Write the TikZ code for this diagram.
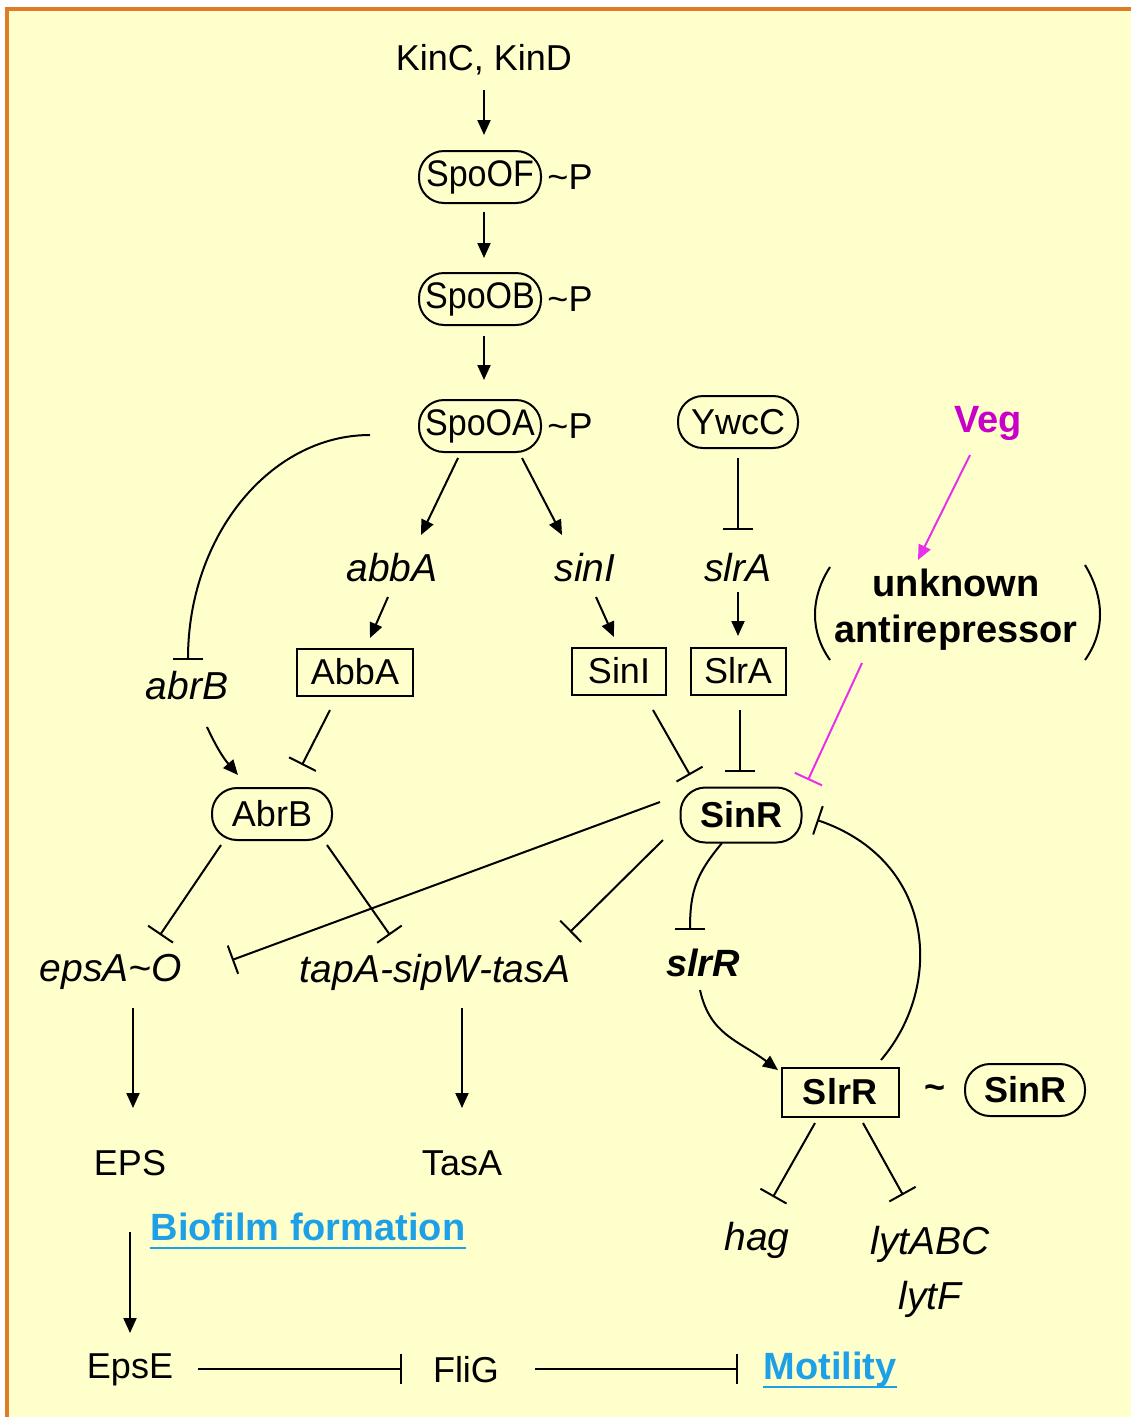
\documentclass[tikz,border=0pt]{standalone}
\usepackage{fontspec}
\setmainfont{Liberation Sans}
\newfontfamily\condfont[FakeStretch=0.92]{Liberation Sans}
\usetikzlibrary{arrows.meta,calc}
\definecolor{bgc}{HTML}{FFFFCC}
\definecolor{framec}{HTML}{E07B28}
\definecolor{magc}{HTML}{E830E8}
\definecolor{vegc}{HTML}{C800C8}
\definecolor{lnkc}{HTML}{1EA0E6}
\begin{document}
\begin{tikzpicture}[x=1pt,y=-1pt,line width=2pt,
  txt/.style={inner sep=0pt,font=\fontsize{36}{40}\selectfont},
  gene/.style={inner sep=0pt,font=\fontsize{39}{42}\selectfont\itshape},
  bgene/.style={inner sep=0pt,font=\fontsize{38}{42}\selectfont\bfseries\itshape},
  linktxt/.style={inner sep=0pt,text=lnkc,font=\fontsize{38}{42}\selectfont\bfseries},
  rnd/.style={draw,rounded corners=25pt,inner sep=0pt,minimum width=122pt,minimum height=52pt,font=\fontsize{36}{40}\selectfont},
  spo/.style={rnd,font=\condfont\fontsize{37}{40}\selectfont},
  pbox/.style={draw,inner sep=0pt,minimum height=47pt,font=\fontsize{36}{40}\selectfont},
  act/.style={-{Triangle[length=15pt,width=13pt]}},
  inh/.style={-{Bar[width=30pt,line width=2pt]}}]
\useasboundingbox (0,0) rectangle (1131,1417);
\fill[white] (0,0) rectangle (1131,1417);
\filldraw[fill=bgc,draw=framec,line width=4pt] (7,9) rectangle (1170,1450);

% nodes
\node[txt] (kin) at (484,60) {KinC, KinD};
\node[spo] (spoof) at (480,177) {SpoOF};
\node[txt] (pf) at (570,177) {\textasciitilde P};
\node[spo] (spoob) at (480,299) {SpoOB};
\node[txt] (pb) at (570,299) {\textasciitilde P};
\node[spo] (spooa) at (480,426) {SpoOA};
\node[txt] (pa) at (570,426) {\textasciitilde P};
\node[rnd,minimum width=120pt] (ywcc) at (738,422) {YwcC};
\node[txt,font=\fontsize{38}{40}\selectfont\bfseries,text=vegc] (veg) at (988,423) {Veg};
\node[gene] (abbAg) at (392,568) {abbA};
\node[gene] (sinIg) at (585,568) {sinI};
\node[gene] (slrAg) at (738,568) {slrA};
\node[txt,font=\fontsize{38}{46}\selectfont\bfseries,align=center] (unk) at (956,610) {unknown\\antirepressor};
\node[pbox,minimum width=116pt] (abbAp) at (355,672) {AbbA};
\node[pbox,minimum width=94pt] (sinIp) at (619,671) {SinI};
\node[pbox,minimum width=95pt] (slrAp) at (738,671) {SlrA};
\node[gene] (abrBg) at (187,686) {abrB};
\node[rnd,minimum width=120pt] (abrB) at (272,814) {AbrB};
\node[rnd,minimum width=121pt,minimum height=55pt,font=\fontsize{36}{40}\selectfont\bfseries] (sinR) at (741,815) {SinR};
\node[gene] (epsg) at (111,972) {epsA\textasciitilde O};
\node[gene] (tapg) at (435,972) {tapA-sipW-tasA};
\node[bgene] (slrRg) at (703,963) {slrR};
\node[pbox,minimum width=117pt,minimum height=49pt,font=\fontsize{36}{40}\selectfont\bfseries] (slrRp) at (840,1092) {SlrR};
\node[txt,font=\fontsize{36}{40}\selectfont\bfseries] (tld) at (935,1092) {\textasciitilde};
\node[rnd,minimum width=120pt,font=\fontsize{36}{40}\selectfont\bfseries] (sinR2) at (1025,1090) {SinR};
\node[txt] (eps) at (130,1163) {EPS};
\node[txt] (tasA) at (462,1163) {TasA};
\node[linktxt] (bio) at (308,1227) {Biofilm formation};
\node[txt] (epsE) at (130,1370) {EpsE};
\node[txt] (fliG) at (466,1370) {FliG};
\node[linktxt] (mot) at (830,1370) {Motility};
\node[gene] (hag) at (757,1240) {hag};
\node[gene,font=\fontsize{39}{55}\selectfont\itshape,align=center] (lyt) at (930,1272) {lytABC\\lytF};

% underlines of the links
\draw[lnkc] ($(bio.base west)+(0,7)$) -- ($(bio.base east)+(0,7)$);
\draw[lnkc] ($(mot.base west)+(0,7)$) -- ($(mot.base east)+(0,7)$);

% parentheses round the antirepressor
\draw ($(unk)+(-126,-43)$) .. controls ($(unk)+(-146,-12)$) and ($(unk)+(-146,22)$) .. ($(unk)+(-126,50)$);
\draw ($(unk)+(129,-45)$) .. controls ($(unk)+(149,-12)$) and ($(unk)+(149,22)$) .. ($(unk)+(129,50)$);

% connectors
\draw[act] ($(kin)+(0,30)$) -- ($(spoof)+(4,-42)$);
\draw[act] ($(spoof)+(4,35)$) -- ($(spoob)+(4,-41)$);
\draw[act] ($(spoob)+(4,37)$) -- ($(spooa)+(4,-46)$);
\draw[act] ($(spooa)+(-22,32)$) -- ($(abbAg)+(29,-33)$);
\draw[act] ($(spooa)+(42,32)$) -- ($(sinIg)+(-23,-33)$);
\draw[inh] ($(ywcc)+(0,36)$) -- ($(slrAg)+(0,-38)$);
\draw[act,magc] ($(veg)+(-18,32)$) -- ($(unk)+(-38,-50)$);
\draw[act] ($(abbAg)+(-4,29)$) -- ($(abbAp)+(15,-34)$);
\draw[act] ($(sinIg)+(11,29)$) -- ($(sinIp)+(-5,-34)$);
\draw[act] ($(slrAg)+(0,24)$) -- ($(slrAp)+(0,-35)$);
\draw[inh] ($(spooa)+(-110,9)$) .. controls +(-100,0) and +(0,-124) .. ($(abrBg)+(1,-26)$);
\draw[act] ($(abrBg)+(20,41)$) to[bend right=8] ($(abrB)+(-34,-39)$);
\draw[inh] ($(abbAp)+(-25,38)$) -- ($(abrB)+(30,-49)$);
\draw[inh] ($(sinIp)+(34,39)$) -- ($(sinR)+(-51,-40)$);
\draw[inh] ($(slrAp)+(2,39)$) -- ($(sinR)+(-1,-43)$);
\draw[inh,magc] ($(unk)+(-94,53)$) -- ($(sinR)+(67,-35)$);
\draw[inh] ($(sinR)+(-81,-13)$) -- ($(epsg)+(121,-12)$);
\draw[inh] ($(abrB)+(-51,31)$) -- ($(epsg)+(49,-37)$);
\draw[inh] ($(abrB)+(55,31)$) -- ($(tapg)+(-45,-37)$);
\draw[inh] ($(sinR)+(-78,25)$) -- ($(tapg)+(135,-40)$);
\draw[inh] ($(sinR)+(-19,28)$) .. controls +(-25,30) and +(0,-40) .. ($(slrRg)+(-13,-33)$);
\draw[act] ($(slrRg)+(-3,27)$) .. controls +(10,45) and +(-40,-30) .. ($(slrRp)+(-62,-22)$);
\draw[inh] ($(slrRp)+(41,-32)$) .. controls +(64,-75) and +(118,40) .. ($(sinR)+(76,5)$);
\draw[act] ($(epsg)+(22,36)$) -- ($(eps)+(3,-55)$);
\draw[act] ($(tapg)+(27,36)$) -- ($(tasA)+(0,-55)$);
\draw[act] ($(eps)+(0,69)$) -- ($(epsE)+(0,-37)$);
\draw[inh] ($(epsE)+(68,-1)$) -- ($(fliG)+(-64,-1)$);
\draw[inh] ($(fliG)+(69,-1)$) -- ($(mot)+(-92,-1)$);
\draw[inh] ($(slrRp)+(-25,31)$) -- ($(hag)+(16,-43)$);
\draw[inh] ($(slrRp)+(23,31)$) -- ($(lyt)+(-27,-77)$);
\end{tikzpicture}
\end{document}
